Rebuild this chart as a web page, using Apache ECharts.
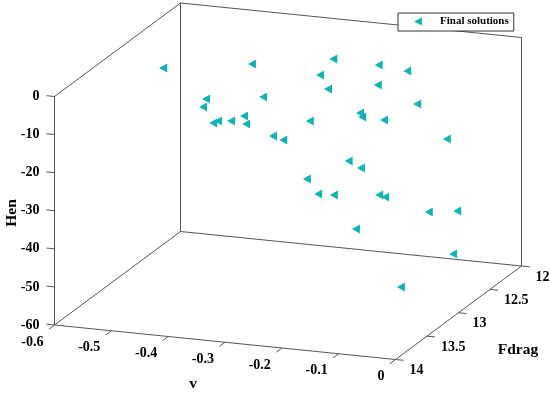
<!DOCTYPE html>
<html><head><meta charset="utf-8">
<script src="https://cdn.jsdelivr.net/npm/echarts@6/dist/echarts.min.js"></script>
<style>html,body{margin:0;padding:0;background:#fff}#c{width:550px;height:394px}</style>
</head><body><div id="c"></div>
<script>
// ---- data ----
const seriesName = 'Final solutions';
const vValues = [-0.564,-0.441,-0.309,-0.299,-0.218,-0.179,-0.263,-0.142,-0.422,-0.394,-0.366,-0.117,-0.129,-0.236,-0.120,-0.354,-0.434,-0.367,-0.433,-0.285,-0.295,-0.260,-0.386,-0.076,-0.171,-0.216,-0.167,-0.269,-0.175,-0.206,-0.129,-0.141,-0.102,-0.114,-0.087,-0.046];
const fdragValues = [12.6,12.3,12.2,12.5,12.3,12.2,12.7,13.0,13.2,13.5,12.8,12.6,13.4,12.4,13.1,13.7,12.9,13.3,12.5,13.8,12.7,13.6,12.3,12.5,13.2,12.6,13.9,12.8,13.4,12.4,13.0,12.2,12.1,13.6,12.3,13.5];
const henValues = [-9.16,-9.93,-7.87,-8.22,-6.82,-9.05,-8.90,-2.34,-7.79,-5.79,-11.33,-11.87,-4.59,-19.53,-9.97,-6.93,-17.43,-11.51,-21.01,-4.92,-17.78,-10.15,-29.06,-21.65,-20.27,-30.16,-16.35,-35.34,-26.81,-39.56,-31.56,-45.49,-45.88,-32.36,-54.48,-47.79];
const vTicks = [-0.6,-0.5,-0.4,-0.3,-0.2,-0.1,0];
const fdragTicks = [12,12.5,13,13.5,14];
const henTicks = [0,-10,-20,-30,-40,-50,-60];

// ---- 3D box layout (orthographic projection) ----
const V_RANGE = [-0.6, 0], F_RANGE = [12, 14], H_RANGE = [-60, 0];
const ORIGIN = [180.5, 231.5];           // screen point of (vmin, Fmin, Hmin)
const V_VEC = [341, 34.5], F_VEC = [-126, 93.5], H_VEC = [0, -228.5];
function project(v, f, h) {
  const tv = (v - V_RANGE[0]) / (V_RANGE[1] - V_RANGE[0]);
  const tf = (f - F_RANGE[0]) / (F_RANGE[1] - F_RANGE[0]);
  const th = (h - H_RANGE[0]) / (H_RANGE[1] - H_RANGE[0]);
  return [ORIGIN[0] + tv * V_VEC[0] + tf * F_VEC[0] + th * H_VEC[0],
          ORIGIN[1] + tv * V_VEC[1] + tf * F_VEC[1] + th * H_VEC[1]];
}
const AXIS_COLOR = '#555';
const FONT = 'Liberation Serif, Times New Roman, serif';
const MARK_COLOR = '#12b3b3';
const LEFT_TRIANGLE = 'path://M10,0L0,5L10,10Z';

const v0 = V_RANGE[0], v1 = V_RANGE[1], f0 = F_RANGE[0], f1 = F_RANGE[1], h0 = H_RANGE[0], h1 = H_RANGE[1];
const edges = [
  [[v0,f1,h0],[v0,f1,h1]],
  [[v0,f1,h1],[v0,f0,h1]],
  [[v0,f0,h0],[v0,f0,h1]],
  [[v0,f0,h1],[v1,f0,h1]],
  [[v1,f0,h0],[v1,f0,h1]],
  [[v0,f1,h0],[v0,f0,h0]],
  [[v0,f0,h0],[v1,f0,h0]],
  [[v0,f1,h0],[v1,f1,h0]],
  [[v1,f1,h0],[v1,f0,h0]]
];

const series = [];
edges.forEach(e => {
  series.push({
    type: 'line', silent: true, symbol: 'none', z: 1, animation: false,
    lineStyle: { color: AXIS_COLOR, width: 1 },
    data: [project(...e[0]), project(...e[1])]
  });
});

function tickSeries(values, toPoint, tickDir, labelOff, align) {
  return {
    type: 'custom', coordinateSystem: 'cartesian2d', silent: true, z: 3, animation: false,
    data: values.map(t => toPoint(t)),
    encode: { x: 0, y: 1 },
    renderItem: (params, api) => {
      const p = api.coord([api.value(0), api.value(1)]);
      return {
        type: 'group', children: [
          { type: 'line', shape: { x1: p[0], y1: p[1], x2: p[0] + tickDir[0], y2: p[1] + tickDir[1] },
            style: { stroke: AXIS_COLOR, lineWidth: 1 } },
          { type: 'text', x: p[0] + labelOff[0], y: p[1] + labelOff[1],
            style: { text: String(values[params.dataIndex]), fill: '#000', font: 'bold 14px ' + FONT,
                     textAlign: align, textVerticalAlign: 'middle' } }
        ]
      };
    }
  };
}
series.push(tickSeries(henTicks, t => project(v0, f1, t), [-8, -0.8], [-15, 0], 'right'));
series.push(tickSeries(vTicks, t => project(t, f1, h0), [-5.6, 4.2], [-11, 17], 'right'));
series.push(tickSeries(fdragTicks, t => project(v1, t, h0), [8, 0.8], [14, 11], 'left'));

series.push({
  name: seriesName, type: 'scatter', z: 2, animation: false,
  symbol: LEFT_TRIANGLE, symbolSize: [8, 9],
  itemStyle: { color: MARK_COLOR, opacity: 1 },
  data: vValues.map((v, i) => project(v, fdragValues[i], henValues[i]))
});

const chart = echarts.init(document.getElementById('c'), null, { renderer: 'canvas' });
chart.setOption({
  animation: false,
  backgroundColor: '#fff',
  grid: { left: 0, right: 0, top: 0, bottom: 0 },
  xAxis: { type: 'value', min: 0, max: 550, show: false },
  yAxis: { type: 'value', min: 0, max: 394, inverse: true, show: false },
  legend: {
    data: [{ name: seriesName, icon: LEFT_TRIANGLE }], left: 398, top: 13, itemWidth: 8, itemHeight: 9,
    padding: [3, 5, 4, 16], borderColor: '#333', borderWidth: 1, backgroundColor: '#fff',
    textStyle: { fontFamily: FONT, fontWeight: 'bold', fontSize: 11, color: '#000', padding: [0, 0, 0, 13] }
  },
  graphic: [
    { type: 'text', x: 193, y: 384, style: { text: 'v', font: 'bold 15.5px ' + FONT, fill: '#000', textAlign: 'center', textVerticalAlign: 'middle' } },
    { type: 'text', x: 518, y: 350, style: { text: 'Fdrag', font: 'bold 15.5px ' + FONT, fill: '#000', textAlign: 'center', textVerticalAlign: 'middle' } },
    { type: 'text', x: 12, y: 213, rotation: Math.PI / 2, style: { text: 'Hen', font: 'bold 15.5px ' + FONT, fill: '#000', textAlign: 'center', textVerticalAlign: 'middle' } }
  ],
  series: series
});
</script>
</body></html>
